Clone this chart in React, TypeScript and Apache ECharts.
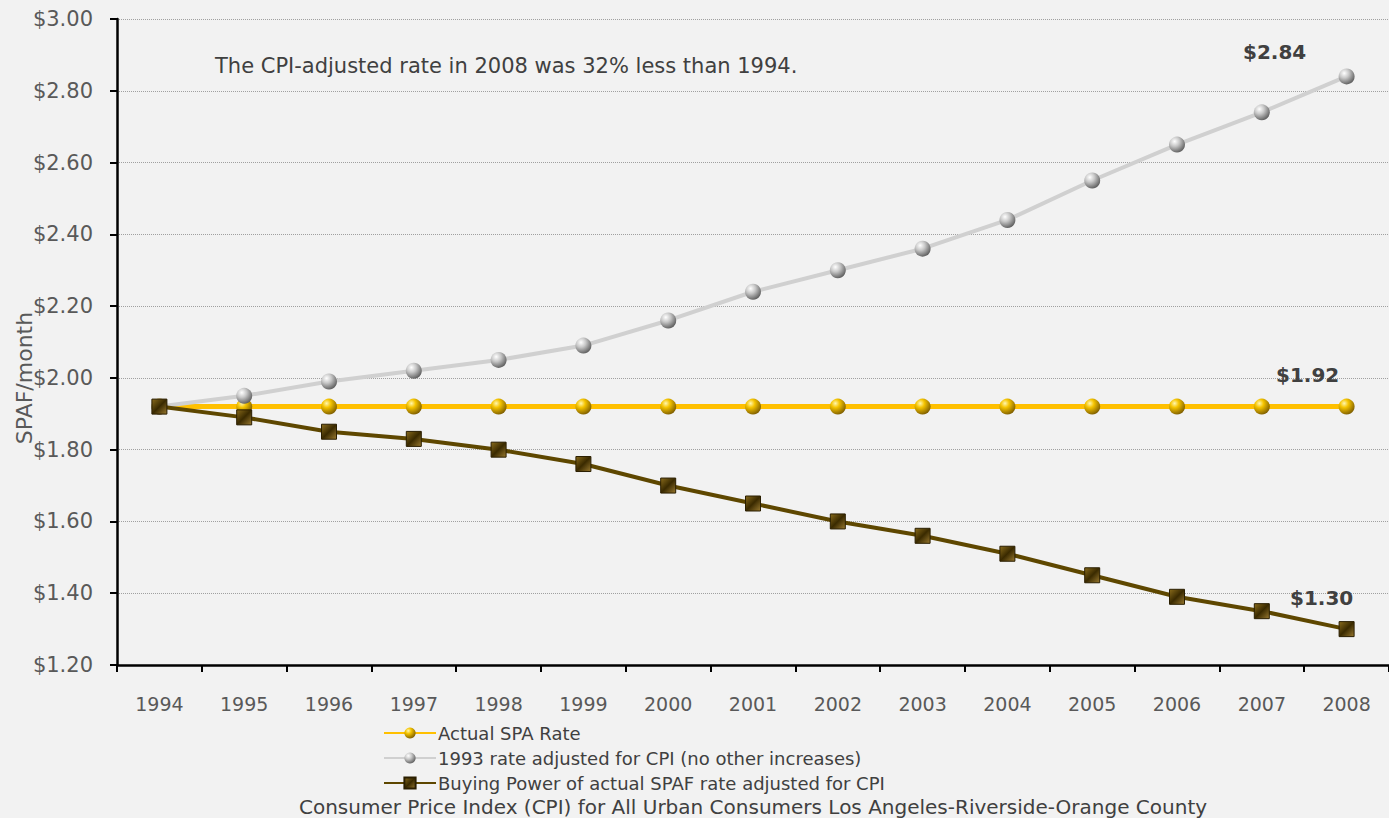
import React, { useEffect, useRef } from "react";
import * as echarts from "echarts";

const years = ["1994","1995","1996","1997","1998","1999","2000","2001","2002","2003","2004","2005","2006","2007","2008"];
const actualRate = [1.92,1.92,1.92,1.92,1.92,1.92,1.92,1.92,1.92,1.92,1.92,1.92,1.92,1.92,1.92];
const cpiAdjusted1993 = [1.92,1.95,1.99,2.02,2.05,2.09,2.16,2.24,2.30,2.36,2.44,2.55,2.65,2.74,2.84];
const buyingPower = [1.92,1.89,1.85,1.83,1.80,1.76,1.70,1.65,1.60,1.56,1.51,1.45,1.39,1.35,1.30];
const seriesNames = [
  "Actual SPA Rate",
  "1993 rate adjusted for CPI (no other increases)",
  "Buying Power of actual SPAF rate adjusted for CPI",
];
const annotation = "The CPI-adjusted rate in 2008 was 32% less than 1994.";
const footnote = "Consumer Price Index (CPI) for All Urban Consumers Los Angeles-Riverside-Orange County";
const yName = "SPAF/month";

const FONT = "'DejaVu Sans', sans-serif";

export default function App() {
  const ref = useRef<HTMLDivElement>(null);
  useEffect(() => {
    if (!ref.current) return;
    const chart = echarts.init(ref.current, undefined, { renderer: "svg" });
    const goldBall = new echarts.graphic.RadialGradient(0.35, 0.3, 0.75, [
      { offset: 0, color: "#fff6b0" },
      { offset: 0.35, color: "#f5c400" },
      { offset: 1, color: "#7a5a00" },
    ]);
    const grayBall = new echarts.graphic.RadialGradient(0.35, 0.3, 0.75, [
      { offset: 0, color: "#ffffff" },
      { offset: 0.4, color: "#c8c8c8" },
      { offset: 1, color: "#5a5a5a" },
    ]);
    const brownSq = new echarts.graphic.LinearGradient(0, 0, 1, 1, [
      { offset: 0, color: "#8a6c1c" },
      { offset: 0.5, color: "#3a2a00" },
      { offset: 1, color: "#9a7a30" },
    ]);
    const lastLabel = (dx: number, dy: number, text: string) => ({
      show: true,
      position: "inside" as const,
      offset: [dx, dy],
      formatter: text,
      fontFamily: FONT,
      fontWeight: "bold" as const,
      fontSize: 20,
      color: "#404040",
    });
    const mkData = (arr: number[], lbl: any) =>
      arr.map((v, i) => (i === arr.length - 1 ? { value: v, label: lbl } : v));

    chart.setOption({
      animation: false,
      backgroundColor: "#f2f2f2",
      textStyle: { fontFamily: FONT },
      grid: { left: 117, top: 19, right: -1, bottom: 153, containLabel: false },
      xAxis: {
        type: "category",
        data: years,
        boundaryGap: true,
        axisLine: { lineStyle: { color: "#000", width: 2.5 } },
        axisTick: { show: true, length: 7, lineStyle: { color: "#000", width: 2 } },
        axisLabel: { fontSize: 19, color: "#595959", margin: 29, fontFamily: FONT },
        splitLine: { show: false },
      },
      yAxis: {
        type: "value",
        min: 1.2,
        max: 3.0,
        interval: 0.2,
        axisLine: { show: true, lineStyle: { color: "#000", width: 2.5 } },
        axisTick: { show: true, length: 7, lineStyle: { color: "#000", width: 2 } },
        axisLabel: {
          fontSize: 21,
          color: "#595959",
          margin: 24,
          fontFamily: FONT,
          formatter: (v: number) => "$" + v.toFixed(2),
        },
        splitLine: { show: true, lineStyle: { color: "#a0a0a0", type: "dotted", width: 1 } },
      },
      legend: {
        orient: "vertical",
        left: 383,
        top: 724,
        padding: 0,
        itemWidth: 52,
        itemHeight: 14,
        itemGap: 7,
        data: seriesNames,
        textStyle: { fontSize: 18, color: "#404040", fontFamily: FONT, padding: [0, 0, 0, -3] },
      },
      graphic: [
        {
          type: "text",
          left: 215,
          top: 55,
          style: { text: annotation, fontSize: 21, fill: "#404040", fontFamily: FONT },
        },
        {
          type: "text",
          x: 24,
          y: 378,
          rotation: Math.PI / 2,
          style: {
            text: yName,
            fontSize: 22,
            fill: "#595959",
            fontFamily: FONT,
            align: "center",
            verticalAlign: "middle",
          },
        },
        {
          type: "text",
          x: 753,
          y: 817,
          style: {
            text: footnote,
            fontSize: 20,
            fill: "#404040",
            fontFamily: FONT,
            align: "center",
            verticalAlign: "bottom",
          },
        },
      ],
      series: [
        {
          name: seriesNames[0],
          type: "line",
          data: mkData(actualRate, lastLabel(-39, -32, "$1.92")),
          symbol: "circle",
          symbolSize: 16,
          lineStyle: { color: "#ffc000", width: 5 },
          itemStyle: { color: goldBall, borderWidth: 0 },
          z: 2,
        },
        {
          name: seriesNames[1],
          type: "line",
          data: mkData(cpiAdjusted1993, lastLabel(-72, -24, "$2.84")),
          symbol: "circle",
          symbolSize: 16,
          lineStyle: { color: "#d0d0d0", width: 4 },
          itemStyle: { color: grayBall, borderWidth: 0 },
          z: 3,
        },
        {
          name: seriesNames[2],
          type: "line",
          data: mkData(buyingPower, lastLabel(-25, -31, "$1.30")),
          symbol: "rect",
          symbolSize: 15,
          lineStyle: { color: "#5e4700", width: 4 },
          itemStyle: { color: brownSq, borderColor: "#2a1e00", borderWidth: 1 },
          z: 4,
        },
      ],
    });
    return () => chart.dispose();
  }, []);
  return (
    <div
      ref={ref}
      style={{ position: "fixed", left: 0, top: 0, width: 1389, height: 818 }}
    />
  );
}
